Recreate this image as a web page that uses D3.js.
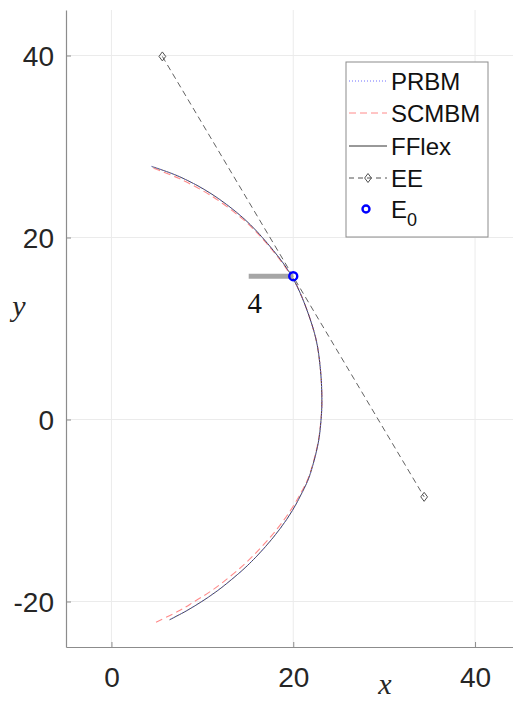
<!DOCTYPE html>
<html>
<head>
<meta charset="utf-8">
<script src="https://cdn.jsdelivr.net/npm/d3@7"></script>
<style>
  body { margin: 0; background: #fff; }
  svg { display: block; }
</style>
</head>
<body>
<svg id="chart" width="513" height="704"></svg>
<script>
// ---- data ----
const xTicks = [0, 20, 40];
const yTicks = [-20, 0, 20, 40];

const fflexX = [4.44, 7.45, 10.99, 14.60, 17.20, 19.45, 20.72, 22.45, 23.00, 23.15, 23.05, 22.73, 21.74, 20.99, 19.91, 18.55, 16.92, 15.02, 12.71, 11.41, 9.94, 8.30, 6.39];
const fflexY = [27.80, 26.70, 24.80, 22.05, 19.31, 16.37, 14.00, 9.04, 5.38, 2.00, -0.11, -2.67, -6.34, -8.00, -10.00, -12.00, -14.00, -16.00, -18.00, -19.00, -20.00, -21.00, -22.01];

const prbmX = [4.40, 7.43, 10.98, 14.60, 17.20, 19.45, 20.72, 22.46, 23.01, 23.16, 23.06, 22.74, 21.75, 20.99, 19.91, 18.55, 16.91, 15.01, 12.70, 11.40, 9.93, 8.28, 6.36];
const prbmY = [27.82, 26.71, 24.80, 22.05, 19.31, 16.37, 14.00, 9.04, 5.38, 2.00, -0.11, -2.67, -6.34, -8.00, -10.00, -12.00, -14.00, -16.00, -18.00, -19.00, -20.00, -21.00, -22.02];

const scmbmX = [4.63, 7.40, 10.95, 14.58, 17.20, 19.42, 20.72, 22.45, 23.00, 23.15, 23.04, 22.70, 21.69, 20.88, 19.69, 18.25, 16.51, 14.52, 12.11, 10.73, 9.13, 7.49, 4.90];
const scmbmY = [27.60, 26.50, 24.60, 21.90, 19.20, 16.30, 14.00, 9.04, 5.38, 2.00, -0.11, -2.67, -6.34, -8.00, -10.00, -12.00, -14.00, -16.00, -18.00, -19.00, -20.00, -21.00, -22.27];

const eeX = [5.6, 34.4];
const eeY = [39.9, -8.5];

const e0 = [20.0, 15.75];
const barX = [15.1, 20.0];
const barLabel = "4";

const legendNames = ["PRBM", "SCMBM", "FFlex", "EE", "E0"];

// ---- layout ----
const svg = d3.select("#chart");
const x = d3.scaleLinear().domain([-5, 45]).range([66, 520.5]);
const y = d3.scaleLinear().domain([-25, 45]).range([647, 10]);

const axisColor = "#8c8c8c";
const textColor = "#262626";

// grid
svg.append("g").selectAll("line").data(xTicks).enter().append("line")
    .attr("x1", d => x(d)).attr("x2", d => x(d))
    .attr("y1", y(45)).attr("y2", y(-25))
    .attr("stroke", "#ebebeb").attr("stroke-width", 1);
svg.append("g").selectAll("line").data(yTicks).enter().append("line")
    .attr("x1", x(-5)).attr("x2", 513)
    .attr("y1", d => y(d)).attr("y2", d => y(d))
    .attr("stroke", "#ebebeb").attr("stroke-width", 1);

// axes
const xAxis = svg.append("g")
    .attr("transform", `translate(0,${y(-25)})`)
    .call(d3.axisBottom(x).tickValues(xTicks).tickFormat(d => String(d))
        .tickSizeInner(-5).tickSizeOuter(0).tickPadding(20));
const yAxis = svg.append("g")
    .attr("transform", `translate(${x(-5)},0)`)
    .call(d3.axisLeft(y).tickValues(yTicks).tickFormat(d => String(d))
        .tickSizeInner(-5).tickSizeOuter(0).tickPadding(12));

[xAxis, yAxis].forEach(a => {
    a.select(".domain").attr("stroke", axisColor).attr("stroke-width", 1.2);
    a.selectAll(".tick line").attr("stroke", axisColor);
    a.selectAll(".tick text")
        .attr("fill", textColor)
        .style("font-family", "Liberation Sans, Arial, sans-serif")
        .style("font-size", "28px");
});
xAxis.selectAll(".tick text").attr("dy", "0.71em");
yAxis.selectAll(".tick text").attr("dy", "0.36em");

// axis labels (latex-like)
svg.append("text")
    .attr("x", 385).attr("y", 694)
    .attr("text-anchor", "middle")
    .style("font-family", "Liberation Serif, Times New Roman, serif")
    .style("font-style", "italic")
    .style("font-size", "30px")
    .attr("fill", textColor)
    .text("x");
svg.append("text")
    .attr("x", 19).attr("y", 316)
    .attr("text-anchor", "middle")
    .style("font-family", "Liberation Serif, Times New Roman, serif")
    .style("font-style", "italic")
    .style("font-size", "30px")
    .attr("fill", textColor)
    .text("y");

const line = d3.line().x(d => x(d[0])).y(d => y(d[1]));
const smooth = d3.line().x(d => x(d[0])).y(d => y(d[1])).curve(d3.curveCatmullRom);
const plot = svg.append("g");

// EE dashed line
const eePts = eeX.map((v, i) => [v, eeY[i]]);
plot.append("path")
    .attr("d", line(eePts))
    .attr("fill", "none")
    .attr("stroke", "#505050")
    .attr("stroke-width", 0.9)
    .attr("stroke-dasharray", "6,4");

// SCMBM
plot.append("path")
    .attr("d", smooth(scmbmX.map((v, i) => [v, scmbmY[i]])))
    .attr("fill", "none")
    .attr("stroke", "#ff8a8a")
    .attr("stroke-width", 1.1)
    .attr("stroke-dasharray", "7,4");

// FFlex
plot.append("path")
    .attr("d", smooth(fflexX.map((v, i) => [v, fflexY[i]])))
    .attr("fill", "none")
    .attr("stroke", "#333")
    .attr("stroke-width", 0.9);

// PRBM
plot.append("path")
    .attr("d", smooth(prbmX.map((v, i) => [v, prbmY[i]])))
    .attr("fill", "none")
    .attr("stroke", "#7070ff")
    .attr("stroke-width", 0.9)
    .attr("stroke-dasharray", "1,2");

// EE diamonds
function diamond(g, cx, cy, s) {
    g.append("path")
        .attr("d", `M${cx},${cy - s}L${cx + s * 0.75},${cy}L${cx},${cy + s}L${cx - s * 0.75},${cy}Z`)
        .attr("fill", "none")
        .attr("stroke", "#505050")
        .attr("stroke-width", 1);
}
eePts.forEach(p => diamond(plot, x(p[0]), y(p[1]), 4.5));

// bar + label
plot.append("line")
    .attr("x1", x(barX[0])).attr("x2", x(barX[1]))
    .attr("y1", y(e0[1])).attr("y2", y(e0[1]))
    .attr("stroke", "#a6a6a6")
    .attr("stroke-width", 5);
plot.append("text")
    .attr("x", x(barX[0]) + 6).attr("y", y(e0[1]) + 37)
    .attr("text-anchor", "middle")
    .style("font-family", "Liberation Serif, Times New Roman, serif")
    .style("font-size", "29px")
    .attr("fill", "#111")
    .text(barLabel);

// E0 marker
plot.append("circle")
    .attr("cx", x(e0[0])).attr("cy", y(e0[1]))
    .attr("r", 4)
    .attr("fill", "none")
    .attr("stroke", "#0000ff")
    .attr("stroke-width", 2.4);

// ---- legend ----
const lg = svg.append("g");
lg.append("rect")
    .attr("x", 346).attr("y", 62)
    .attr("width", 142).attr("height", 175)
    .attr("fill", "#fff")
    .attr("stroke", "#8c8c8c")
    .attr("stroke-width", 1);

const rowY = [81, 113, 146, 178, 209];
const sx0 = 349, sx1 = 387;
const styles = [
    { stroke: "#7070ff", dash: "1,2" },
    { stroke: "#ff8a8a", dash: "7,4" },
    { stroke: "#333", dash: null },
    { stroke: "#505050", dash: "5,4" }
];
legendNames.forEach((name, i) => {
    const ry = rowY[i];
    if (i < 4) {
        const l = lg.append("line")
            .attr("x1", sx0).attr("x2", sx1)
            .attr("y1", ry).attr("y2", ry)
            .attr("stroke", styles[i].stroke)
            .attr("stroke-width", 1);
        if (styles[i].dash) l.attr("stroke-dasharray", styles[i].dash);
        if (i === 3) diamond(lg, (sx0 + sx1) / 2, ry, 4.5);
    } else {
        lg.append("circle")
            .attr("cx", (sx0 + sx1) / 2 - 2).attr("cy", ry)
            .attr("r", 3.5)
            .attr("fill", "none")
            .attr("stroke", "#0000ff")
            .attr("stroke-width", 2.4);
    }
    const t = lg.append("text")
        .attr("x", 391).attr("y", ry)
        .attr("dy", "0.36em")
        .attr("fill", "#111")
        .style("font-family", "Liberation Sans, Arial, sans-serif")
        .style("font-size", "24px");
    if (name === "E0") {
        t.append("tspan").text("E");
        t.append("tspan").attr("dy", "0.45em").style("font-size", "18px").text("0");
    } else {
        t.text(name);
    }
});
</script>
</body>
</html>
